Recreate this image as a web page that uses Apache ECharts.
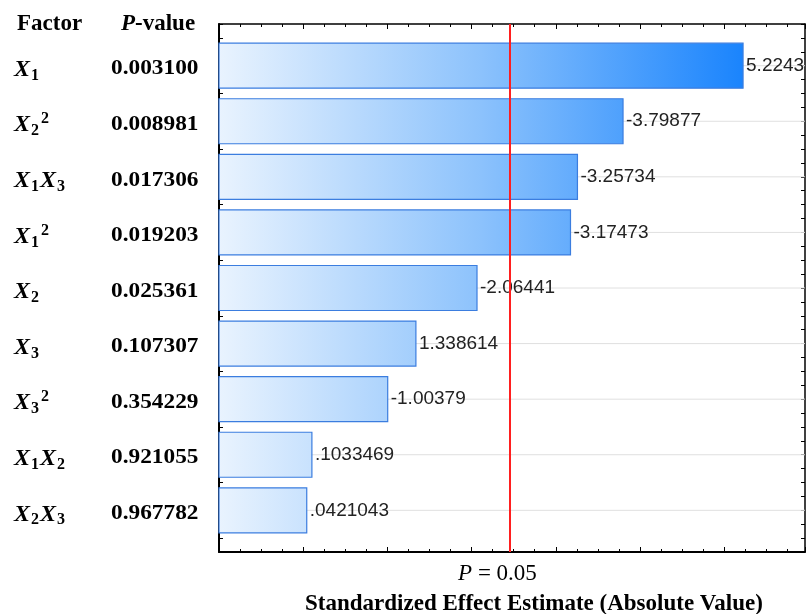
<!DOCTYPE html>
<html>
<head>
<meta charset="utf-8">
<script src="https://cdn.jsdelivr.net/npm/echarts@6/dist/echarts.min.js"></script>
<style>
  html, body { margin: 0; padding: 0; background: #fff; }
  #chart { width: 808px; height: 614px; }
</style>
</head>
<body>
<div id="chart"></div>
<script>
// Pareto chart of standardized effects (sorted by |effect|)
const factors = ['X1', 'X2^2', 'X1X3', 'X1^2', 'X2', 'X3', 'X3^2', 'X1X2', 'X2X3'];
const pValues = ['0.003100', '0.008981', '0.017306', '0.019203', '0.025361', '0.107307', '0.354229', '0.921055', '0.967782'];
const effects = [5.2243, -3.79877, -3.25734, -3.17473, -2.06441, 1.338614, -1.00379, 0.1033469, 0.0421043];
const criticalT = 2.447;          // |t| at P = 0.05
const xRange = [-1, 5.96];
const yRange = [-0.75, 8.75];

const serif = '"Liberation Serif", "Times New Roman", serif';
const sans = '"Liberation Sans", Arial, sans-serif';

// effect label in the usual stats-package style: leading zero dropped
function fmtEffect(v) {
  return String(v).replace(/^(-?)0\./, '$1.');
}

// "X1X3" -> X with subscript 1, X with subscript 3; "^2" -> superscript 2
function factorRich(name) {
  return name
    .replace(/X(\d)/g, '{x|X}{sub|$1}')
    .replace(/\^(\d)/g, '{sup|$1}');
}

const chart = echarts.init(document.getElementById('chart'), null, { renderer: 'canvas' });

const frameAxis = (pos, width, extra) => Object.assign({
  type: 'value',
  position: pos,
  axisLine: { show: true, onZero: false, lineStyle: { color: '#000', width: width } },
  axisTick: { show: true, inside: true, length: 5, lineStyle: { color: '#000', width: 1 } },
  minorTick: { show: true, splitNumber: 4, length: 3, lineStyle: { color: '#000', width: 1 } },
  axisLabel: { show: false },
  splitLine: { show: false }
}, extra);

const data = effects.map((e, i) => [Math.abs(e), i]);
const maxAbs = Math.max.apply(null, effects.map(Math.abs));

const option = {
  animation: false,
  backgroundColor: '#fff',
  grid: { left: 219, right: 3, top: 24, bottom: 62, containLabel: false, outerBoundsMode: 'none' },
  xAxis: [
    frameAxis('bottom', 2, {
      min: xRange[0], max: xRange[1], interval: 1,
      name: 'Standardized Effect Estimate (Absolute Value)',
      nameLocation: 'middle',
      nameGap: 41,
      nameTextStyle: {
        fontFamily: serif, fontWeight: 'bold', fontSize: 23, color: '#000',
        padding: [0, 0, 0, 44]
      }
    }),
    frameAxis('top', 1.5, { min: xRange[0], max: xRange[1], interval: 1 })
  ],
  yAxis: [
    frameAxis('left', 2, {
      inverse: true, min: yRange[0], max: yRange[1], interval: 0.25,
      minorTick: { show: false },
      axisTick: { show: true, inside: true, length: 4, lineStyle: { color: '#000' } },
      axisLabel: {
        show: true,
        align: 'left',
        margin: 205,
        padding: [8, 0, 0, 0],
        formatter: function (v) {
          const i = Math.round(v);
          if (Math.abs(v - i) > 1e-6 || i < 0 || i >= factors.length) return '';
          return factorRich(factors[i]);
        },
        rich: {
          x: { fontFamily: serif, fontStyle: 'italic', fontWeight: 'bold', fontSize: 24, color: '#000', lineHeight: 28, verticalAlign: 'middle' },
          sub: { fontFamily: serif, fontWeight: 'bold', fontSize: 16, color: '#000', lineHeight: 14, verticalAlign: 'bottom', padding: [0, 1, 0, 1] },
          sup: { fontFamily: serif, fontWeight: 'bold', fontSize: 16, color: '#000', lineHeight: 14, verticalAlign: 'top', padding: [0, 0, 0, 1] }
        }
      }
    }),
    frameAxis('right', 1.5, {
      inverse: true, min: yRange[0], max: yRange[1], interval: 0.25,
      minorTick: { show: false },
      axisTick: { show: true, inside: true, length: 4, lineStyle: { color: '#000' } }
    })
  ],
  graphic: [
    {
      type: 'text', left: 17, top: 13,
      style: { text: 'Factor', font: 'bold 23px ' + serif, fill: '#000' }
    },
    {
      type: 'text', left: 121, top: 13,
      style: {
        text: '{i|P}{n|-value}',
        rich: {
          i: { font: 'italic bold 23px ' + serif, fill: '#000' },
          n: { font: 'bold 23px ' + serif, fill: '#000' }
        }
      }
    }
  ],
  series: [
    {
      type: 'custom',
      xAxisIndex: 0,
      yAxisIndex: 0,
      data: data,
      renderItem: function (params, api) {
        const i = api.value(1);
        const v = api.value(0);
        const start = api.coord([xRange[0], i]);
        const end = api.coord([v, i]);
        const right = api.coord([xRange[1], i]);
        const h = api.size([0, 0.81])[1];
        const g0 = api.coord([xRange[0], 0])[0];
        const g1 = api.coord([maxAbs, 0])[0];
        const fill = new echarts.graphic.LinearGradient(g0, 0, g1, 0, [
          { offset: 0, color: '#e9f3fe' },
          { offset: 0.5, color: '#8cc2fc' },
          { offset: 1, color: '#1a84fd' }
        ], true);
        return {
          type: 'group',
          children: [
            {
              type: 'line', z2: 0,
              shape: { x1: start[0], y1: start[1], x2: right[0], y2: start[1] },
              style: { stroke: '#e0e0e0', lineWidth: 1 }
            },
            {
              type: 'rect', z2: 1,
              shape: { x: start[0], y: start[1] - h / 2, width: end[0] - start[0], height: h },
              style: { fill: fill, stroke: '#3b7ddf', lineWidth: 1.2 }
            },
            {
              type: 'text', z2: 2,
              x: end[0] + 3, y: end[1],
              style: {
                text: fmtEffect(effects[i]),
                font: '19px ' + sans, fill: '#222',
                verticalAlign: 'middle', align: 'left'
              }
            },
            {
              type: 'text', z2: 2,
              x: start[0] - 108, y: start[1] + 3,
              scaleX: 1.06,
              style: {
                text: pValues[i],
                font: 'bold 22px ' + serif, fill: '#000',
                verticalAlign: 'middle', align: 'left'
              }
            }
          ]
        };
      },
      markLine: {
        silent: true,
        symbol: 'none',
        animation: false,
        lineStyle: { color: '#ff1f1f', width: 2, type: 'solid' },
        label: {
          show: true,
          position: 'end',
          distance: 10,
          formatter: '{i|P} = 0.05',
          padding: [0, 24, 0, 0],
          rich: {
            i: { fontFamily: serif, fontStyle: 'italic', fontSize: 23, color: '#000' }
          },
          fontFamily: serif, fontSize: 23, color: '#000'
        },
        data: [{ xAxis: criticalT }]
      }
    }
  ]
};

chart.setOption(option);
</script>
</body>
</html>
